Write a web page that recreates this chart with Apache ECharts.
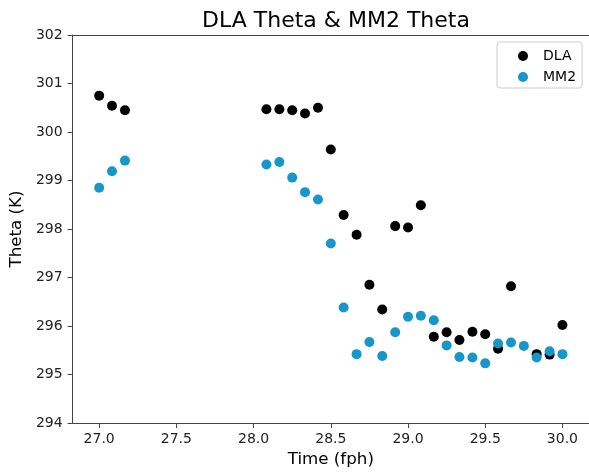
<!DOCTYPE html>
<html>
<head>
<meta charset="utf-8">
<script src="https://cdn.jsdelivr.net/npm/echarts@6/dist/echarts.min.js"></script>
<style>html,body{margin:0;padding:0;background:#fff;}#c{width:589px;height:474px;}</style>
</head>
<body>
<div id="c"></div>
<script>
const timeDLA = [27.0, 27.083, 27.167, 28.083, 28.167, 28.25, 28.333, 28.417, 28.5, 28.583, 28.667, 28.75, 28.833, 28.917, 29.0, 29.083, 29.167, 29.25, 29.333, 29.417, 29.5, 29.583, 29.667, 29.833, 29.917, 30.0];
const dla = [300.75, 300.54, 300.45, 300.47, 300.47, 300.45, 300.38, 300.50, 299.64, 298.29, 297.88, 296.85, 296.34, 298.06, 298.03, 298.49, 295.78, 295.87, 295.71, 295.88, 295.83, 295.53, 296.82, 295.42, 295.41, 296.02];
const timeMM2 = [27.0, 27.083, 27.167, 28.083, 28.167, 28.25, 28.333, 28.417, 28.5, 28.583, 28.667, 28.75, 28.833, 28.917, 29.0, 29.083, 29.167, 29.25, 29.333, 29.417, 29.5, 29.583, 29.667, 29.75, 29.833, 29.917, 30.0];
const mm2 = [298.85, 299.19, 299.41, 299.33, 299.38, 299.06, 298.76, 298.61, 297.70, 296.38, 295.42, 295.67, 295.38, 295.87, 296.19, 296.21, 296.12, 295.60, 295.36, 295.35, 295.23, 295.64, 295.66, 295.59, 295.35, 295.48, 295.42];
const xTicks = [27.0, 27.5, 28.0, 28.5, 29.0, 29.5, 30.0];
const yTicks = [294, 295, 296, 297, 298, 299, 300, 301, 302];

const font = 'DejaVu Sans';
const chart = echarts.init(document.getElementById('c'), null, {renderer: 'canvas'});
chart.setOption({
  animation: false,
  backgroundColor: '#fff',
  title: {
    text: 'DLA Theta & MM2 Theta',
    left: 331, top: 5, textAlign: 'center',
    textStyle: {fontFamily: font, fontSize: 22, fontWeight: 'normal', color: '#000'}
  },
  legend: {
    orient: 'vertical', left: 497, top: 42,
    padding: [7, 6, 4, 21], itemGap: 7,
    itemWidth: 10, itemHeight: 10,
    borderColor: '#ccc', borderWidth: 1, borderRadius: 3,
    textStyle: {fontFamily: font, fontSize: 14, color: '#000', padding: [0, 0, 0, 10]},
    data: [{name: 'DLA', icon: 'circle'}, {name: 'MM2', icon: 'circle'}]
  },
  grid: {left: 72, top: 35, bottom: 51, width: 518, show: false, containLabel: false},
  xAxis: [{
    type: 'value', min: 26.828, max: 30.172,
    name: 'Time (fph)', nameLocation: 'middle', nameGap: 27,
    nameTextStyle: {fontFamily: font, fontSize: 16.7, color: '#000'},
    axisLine: {show: true, lineStyle: {color: '#444', width: 1}},
    axisTick: {show: true, length: 5, customValues: xTicks, lineStyle: {color: '#444'}},
    axisLabel: {fontFamily: font, fontSize: 14, color: '#222', margin: 9, customValues: xTicks,
      formatter: v => v.toFixed(1)},
    splitLine: {show: false}
  }, {
    type: 'value', position: 'top', min: 26.828, max: 30.172,
    axisLine: {show: true, onZero: false, lineStyle: {color: '#444', width: 1}},
    axisTick: {show: false}, axisLabel: {show: false}, splitLine: {show: false}
  }],
  yAxis: {
    type: 'value', min: 294, max: 302, interval: 1,
    name: 'Theta (K)', nameLocation: 'middle', nameGap: 44, nameRotate: 90,
    nameTextStyle: {fontFamily: font, fontSize: 16.7, color: '#000'},
    axisLine: {show: true, lineStyle: {color: '#444', width: 1}},
    axisTick: {show: true, length: 5, lineStyle: {color: '#444'}},
    axisLabel: {fontFamily: font, fontSize: 14, color: '#222', margin: 10},
    splitLine: {show: false}
  },
  series: [
    {name: 'DLA', type: 'scatter', symbol: 'circle', symbolSize: 10,
     itemStyle: {color: '#000000', opacity: 1},
     data: timeDLA.map((t, i) => [t, dla[i]])},
    {name: 'MM2', type: 'scatter', symbol: 'circle', symbolSize: 10,
     itemStyle: {color: '#1796c9', opacity: 1},
     data: timeMM2.map((t, i) => [t, mm2[i]])}
  ]
});
</script>
</body>
</html>
